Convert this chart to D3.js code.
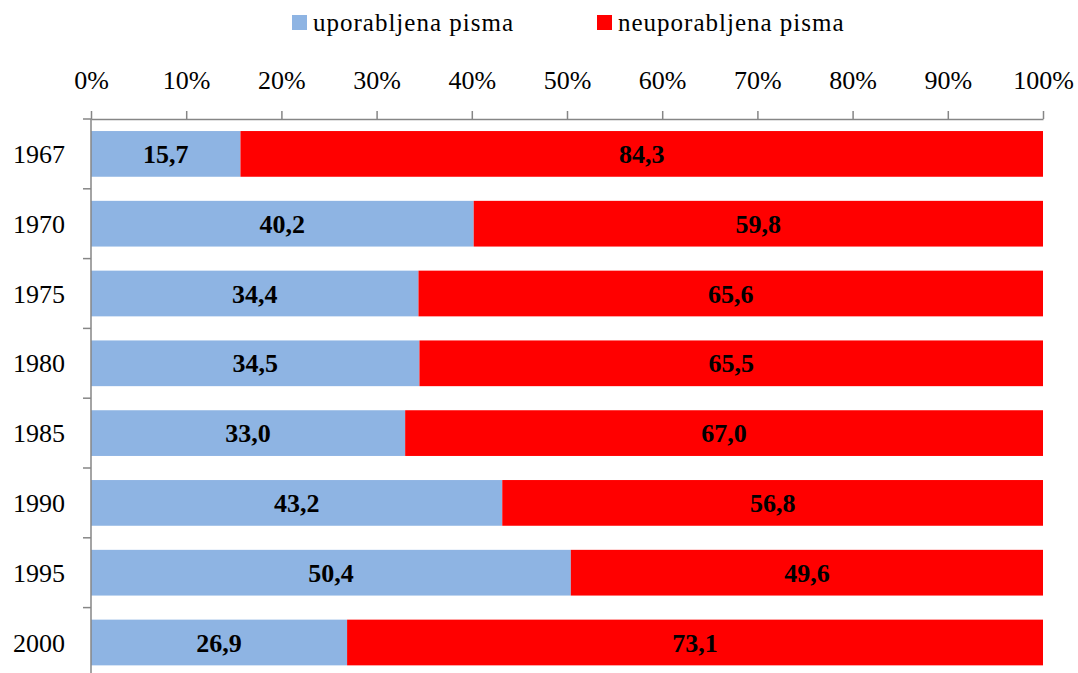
<!doctype html>
<html lang="sl">
<head>
	<meta charset="UTF-8">
	<title>Pisma</title>
	<script src="https://cdn.jsdelivr.net/npm/d3@7"></script>
	<style>
		body { margin: 0; background: #fff; }
		text { font-family: "Liberation Serif", "Times New Roman", serif; }
	</style>
</head>
<body>
<div id="container"></div>
<script>
	var width = 1078, height = 673;

	var years = ["1967", "1970", "1975", "1980", "1985", "1990", "1995", "2000"];
	var used = [15.7, 40.2, 34.4, 34.5, 33.0, 43.2, 50.4, 26.9];
	var unused = [84.3, 59.8, 65.6, 65.5, 67.0, 56.8, 49.6, 73.1];
	var seriesNames = ["uporabljena pisma", "neuporabljena pisma"];
	var colors = ["#8eb4e3", "#ff0000"];
	var ticks = [0, 10, 20, 30, 40, 50, 60, 70, 80, 90, 100];

	var axisColor = "#868686";

	var svg = d3.select("#container")
			.append("svg")
			.attr("width", width)
			.attr("height", height);

	var scale_x = d3.scaleLinear()
			.domain([0, 100])
			.range([91, 1043]);

	var scale_y = d3.scaleBand()
			.domain(years)
			.range([119, 119 + 8 * 69.8])
			.paddingInner(0.345)
			.paddingOuter(0.1725);

	// stacked data
	var rows = years.map(function (y, i) {
		return {year: y, vals: [used[i], unused[i]]};
	});

	var bars = svg.append("g");
	rows.forEach(function (r) {
		var x0 = 0;
		r.vals.forEach(function (v, k) {
			bars.append("rect")
					.attr("x", scale_x(x0))
					.attr("y", scale_y(r.year))
					.attr("width", scale_x(x0 + v) - scale_x(x0))
					.attr("height", scale_y.bandwidth())
					.attr("fill", colors[k]);
			bars.append("text")
					.attr("x", scale_x(x0 + v / 2))
					.attr("y", scale_y(r.year) + scale_y.bandwidth() / 2)
					.attr("dy", "0.35em")
					.attr("text-anchor", "middle")
					.attr("font-size", 26)
					.attr("font-weight", "bold")
					.text(v.toFixed(1).replace(".", ","));
			x0 += v;
		});
	});

	// top axis
	var x_axis = d3.axisTop(scale_x)
			.tickValues(ticks)
			.tickSize(8)
			.tickSizeOuter(0)
			.tickPadding(22)
			.tickFormat(function (d) { return d + "%"; });

	var gx = svg.append("g")
			.attr("transform", "translate(0,119)")
			.call(x_axis);
	gx.selectAll("path, line").attr("stroke", axisColor).attr("stroke-width", 1.5);
	gx.selectAll("text")
			.attr("font-size", 26)
			.attr("fill", "#000")
			.style("font-family", "'Liberation Serif', serif");

	// left axis (ticks between categories)
	var gy = svg.append("g");
	var step = scale_y.step();
	gy.append("line")
			.attr("x1", 91).attr("x2", 91)
			.attr("y1", 119).attr("y2", 119 + years.length * step)
			.attr("stroke", axisColor).attr("stroke-width", 1.5);
	d3.range(years.length + 1).forEach(function (i) {
		gy.append("line")
				.attr("x1", 83).attr("x2", 91)
				.attr("y1", 119 + i * step).attr("y2", 119 + i * step)
				.attr("stroke", axisColor).attr("stroke-width", 1.5);
	});
	gy.selectAll("text.year")
			.data(years)
			.enter()
			.append("text")
			.attr("class", "year")
			.attr("x", 65)
			.attr("y", function (d) { return scale_y(d) + scale_y.bandwidth() / 2; })
			.attr("dy", "0.35em")
			.attr("text-anchor", "end")
			.attr("font-size", 26)
			.text(function (d) { return d; });

	// legend
	var legendX = [292, 597];
	var legend = svg.append("g");
	seriesNames.forEach(function (name, i) {
		legend.append("rect")
				.attr("x", legendX[i])
				.attr("y", 15)
				.attr("width", 15)
				.attr("height", 15)
				.attr("fill", colors[i]);
		legend.append("text")
				.attr("x", legendX[i] + 21)
				.attr("y", 31)
				.attr("font-size", 25)
				.attr("letter-spacing", 1)
				.text(name);
	});
</script>
</body>
</html>
